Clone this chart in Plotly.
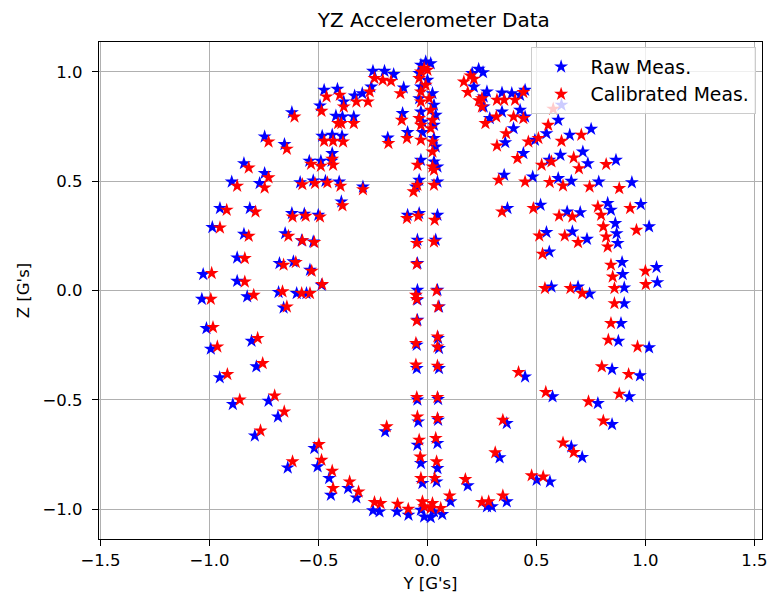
import plotly.graph_objects as go

# Raw measurements (Y, Z) in G's
raw_y = [
    -0.250, -0.197, -0.155, -0.109, -0.474, -0.413, -0.334, -0.299, -0.258, -0.384,
    -0.493, -0.622, -0.420, -0.390, -0.338, -0.114, -0.747, -0.656, -0.483, -0.437,
    -0.392, -0.182, -0.091, -0.023, -0.437, -0.842, -0.542, -0.489, -0.440, -0.747,
    -0.898, -0.770, -0.584, -0.524, -0.468, -0.405, -0.296, -0.395, -0.952, -0.815,
    -0.622, -0.565, -0.501, -0.987, -0.842, -0.653, -0.577, -0.524, -0.873, -0.679,
    -0.615, -0.539, -1.029, -0.873, -0.486,
    -1.035, -0.827, -0.683, -0.600, -0.555, -0.660, -1.014, -0.994, -0.807, -0.953,
    -0.785, -0.893, -0.729, -0.686, -0.792, -0.641, -0.519, -0.504, -0.451, -0.443,
    -0.364, -0.326, -0.250, -0.220, -0.140, -0.087, -0.194,
    0.235, 0.255, 0.205, 0.213, 0.273, 0.342, 0.387, 0.448, 0.425, 0.258,
    0.342, 0.425, 0.286, 0.448, 0.600, 0.615, 0.395, 0.546, 0.653, 0.751,
    0.357, 0.493, 0.440, 0.610, 0.713, 0.559, 0.736, 0.865, 0.352, 0.483,
    0.600, 0.660, 0.786, 0.938, 0.367, 0.519, 0.641, 0.701, 0.827, 0.842,
    0.979, 0.862, 1.017, 0.546, 0.665, 0.732, 0.868, 0.873, 0.559, 0.893,
    0.896, 1.051, 1.055, 0.903, 0.569, 0.691, 0.744, 0.258,
    0.903, 0.888, 0.876, 1.017, 0.847, 0.975, 0.448, 0.574, 0.782, 0.926,
    0.847, 0.364, 0.660, 0.710, 0.331, 0.501, 0.562, 0.185, 0.364, 0.273,
    0.296, 0.106, 0.068,
    -0.008, -0.030, 0.015, -0.038, 0.000, -0.030, 0.023, -0.038, 0.030, -0.030,
    0.038, -0.023, 0.030, 0.030, 0.038, -0.030, 0.030, 0.046, -0.038, -0.053,
    0.046, -0.091, -0.038, 0.046, -0.046, 0.038, -0.046, -0.046, 0.046, 0.053,
    -0.046, -0.046, -0.049, 0.049, 0.053, -0.049, 0.053, -0.046, 0.049, -0.042,
    0.049, -0.046, 0.046, -0.030, 0.046, -0.023, 0.042, -0.015, 0.015, -0.030,
    0.030,
]
raw_z = [
    1.003, 1.003, 0.988, 0.927, 0.916, 0.921, 0.890, 0.901, 0.931, 0.863,
    0.845, 0.814, 0.798, 0.794, 0.794, 0.810, 0.703, 0.668, 0.706, 0.711,
    0.706, 0.698, 0.723, 0.723, 0.627, 0.581, 0.592, 0.592, 0.592, 0.536,
    0.497, 0.490, 0.494, 0.502, 0.500, 0.497, 0.474, 0.406, 0.376, 0.376,
    0.353, 0.350, 0.345, 0.289, 0.258, 0.261, 0.228, 0.223, 0.150, 0.124,
    0.132, 0.094, 0.074, 0.043, 0.025,
    -0.039, -0.028, -0.008, -0.013, -0.013, -0.079, -0.173, -0.267, -0.231, -0.398,
    -0.348, -0.520, -0.505, -0.577, -0.664, -0.810, -0.721, -0.805, -0.858, -0.935,
    -0.904, -0.947, -1.006, -1.011, -1.011, -1.026, -0.645,
    1.012, 0.997, 0.993, 0.931, 0.909, 0.904, 0.901, 0.916, 0.893, 0.840,
    0.817, 0.825, 0.787, 0.794, 0.779, 0.848, 0.741, 0.718, 0.711, 0.738,
    0.677, 0.688, 0.627, 0.619, 0.634, 0.596, 0.581, 0.596, 0.528, 0.520,
    0.513, 0.500, 0.497, 0.494, 0.376, 0.391, 0.360, 0.357, 0.399, 0.368,
    0.394, 0.307, 0.292, 0.266, 0.269, 0.235, 0.261, 0.216, 0.177, 0.129,
    0.074, 0.106, 0.037, 0.013, 0.017, 0.017, -0.015, 0.886,
    -0.059, -0.150, -0.231, -0.261, -0.360, -0.389, -0.394, -0.485, -0.516, -0.485,
    -0.612, -0.607, -0.714, -0.762, -0.764, -0.866, -0.874, -0.892, -0.965, -0.988,
    -0.988, -0.965, -1.023,
    1.046, 1.031, 1.038, 0.993, 0.962, 0.931, 0.901, 0.878, 0.848, 0.817,
    0.802, 0.771, 0.756, 0.696, 0.657, 0.596, 0.589, 0.566, 0.505, 0.474,
    0.497, 0.345, 0.353, 0.345, 0.231, 0.231, 0.124, 0.002, 0.002, -0.074,
    -0.043, -0.135, -0.249, -0.218, -0.264, -0.356, -0.356, -0.500, -0.497, -0.600,
    -0.592, -0.706, -0.698, -0.790, -0.813, -0.881, -0.874, -1.034, -1.037, -1.003,
    -1.011,
]

# Calibrated measurements (Y, Z) in G's
cal_y = [
    -0.243, -0.205, -0.167, -0.124, -0.463, -0.402, -0.326, -0.273, -0.265, -0.384,
    -0.486, -0.610, -0.410, -0.395, -0.338, -0.118, -0.729, -0.645, -0.474, -0.433,
    -0.387, -0.179, -0.094, -0.030, -0.437, -0.820, -0.534, -0.489, -0.433, -0.729,
    -0.873, -0.747, -0.574, -0.516, -0.459, -0.399, -0.296, -0.390, -0.921, -0.789,
    -0.619, -0.559, -0.493, -0.952, -0.820, -0.638, -0.574, -0.519, -0.838, -0.660,
    -0.604, -0.531, -0.990, -0.838, -0.483,
    -0.994, -0.797, -0.665, -0.577, -0.539, -0.645, -0.984, -0.964, -0.779, -0.918,
    -0.756, -0.861, -0.701, -0.657, -0.766, -0.619, -0.498, -0.486, -0.437, -0.433,
    -0.357, -0.316, -0.243, -0.215, -0.137, -0.088, -0.187,
    0.197, 0.213, 0.167, 0.185, 0.250, 0.319, 0.352, 0.440, 0.402, 0.250,
    0.316, 0.395, 0.266, 0.440, 0.554, 0.577, 0.361, 0.509, 0.615, 0.706,
    0.319, 0.463, 0.413, 0.569, 0.671, 0.524, 0.695, 0.820, 0.327, 0.448,
    0.561, 0.622, 0.744, 0.880, 0.342, 0.486, 0.604, 0.665, 0.782, 0.797,
    0.930, 0.807, 0.959, 0.513, 0.630, 0.691, 0.820, 0.827, 0.528, 0.842,
    0.850, 1.000, 1.002, 0.858, 0.539, 0.656, 0.710, 0.236,
    0.858, 0.842, 0.830, 0.964, 0.800, 0.923, 0.418, 0.543, 0.739, 0.880,
    0.807, 0.346, 0.622, 0.671, 0.311, 0.478, 0.531, 0.174, 0.346, 0.250,
    0.281, 0.102, 0.061,
    -0.015, -0.030, 0.000, -0.038, -0.008, -0.030, 0.008, -0.030, 0.015, -0.038,
    0.023, -0.030, 0.015, 0.023, 0.023, -0.046, 0.023, 0.030, -0.046, -0.064,
    0.030, -0.094, -0.042, 0.033, -0.049, 0.030, -0.049, -0.053, 0.042, 0.049,
    -0.049, -0.049, -0.053, 0.046, 0.046, -0.053, 0.046, -0.049, 0.046, -0.046,
    0.046, -0.038, 0.038, -0.033, 0.042, -0.030, 0.033, -0.015, 0.015, -0.023,
    0.023,
]
cal_z = [
    0.970, 0.962, 0.957, 0.901, 0.886, 0.894, 0.863, 0.863, 0.909, 0.840,
    0.820, 0.794, 0.764, 0.764, 0.764, 0.779, 0.680, 0.647, 0.683, 0.683,
    0.680, 0.673, 0.696, 0.688, 0.601, 0.561, 0.578, 0.569, 0.574, 0.516,
    0.478, 0.470, 0.485, 0.490, 0.493, 0.478, 0.462, 0.388, 0.368, 0.360,
    0.337, 0.340, 0.337, 0.287, 0.249, 0.249, 0.228, 0.220, 0.147, 0.117,
    0.129, 0.089, 0.079, 0.040, 0.028,
    -0.039, -0.021, -0.005, -0.013, -0.013, -0.074, -0.168, -0.257, -0.218, -0.383,
    -0.333, -0.500, -0.481, -0.554, -0.641, -0.782, -0.703, -0.775, -0.825, -0.904,
    -0.874, -0.920, -0.968, -0.973, -0.976, -0.999, -0.622,
    0.982, 0.967, 0.954, 0.906, 0.878, 0.871, 0.871, 0.906, 0.871, 0.840,
    0.794, 0.794, 0.764, 0.787, 0.756, 0.830, 0.718, 0.696, 0.683, 0.711,
    0.662, 0.680, 0.604, 0.589, 0.607, 0.574, 0.558, 0.577, 0.505, 0.497,
    0.495, 0.479, 0.474, 0.467, 0.360, 0.376, 0.342, 0.337, 0.383, 0.345,
    0.376, 0.292, 0.276, 0.250, 0.250, 0.220, 0.246, 0.200, 0.167, 0.117,
    0.063, 0.089, 0.028, 0.010, 0.010, 0.010, -0.013, 0.868,
    -0.059, -0.150, -0.226, -0.257, -0.348, -0.383, -0.374, -0.465, -0.508, -0.473,
    -0.596, -0.592, -0.696, -0.740, -0.741, -0.846, -0.851, -0.863, -0.938, -0.968,
    -0.965, -0.938, -0.995,
    1.016, 1.000, 1.008, 0.970, 0.939, 0.909, 0.878, 0.863, 0.825, 0.787,
    0.779, 0.756, 0.741, 0.680, 0.634, 0.574, 0.566, 0.551, 0.482, 0.452,
    0.482, 0.330, 0.340, 0.322, 0.216, 0.223, 0.121, -0.021, -0.001, -0.074,
    -0.040, -0.138, -0.241, -0.211, -0.257, -0.340, -0.345, -0.488, -0.488, -0.577,
    -0.584, -0.683, -0.675, -0.760, -0.782, -0.858, -0.858, -0.988, -0.995, -0.965,
    -0.973,
]

x_ticks = [-1.5, -1.0, -0.5, 0.0, 0.5, 1.0, 1.5]
y_ticks = [-1.0, -0.5, 0.0, 0.5, 1.0]

FONT = "DejaVu Sans"

fig = go.Figure()
fig.add_trace(go.Scatter(
    x=raw_y, y=raw_z, mode="markers", name="Raw Meas.",
    marker=dict(symbol="star", size=10.5, color="#0000ff", line=dict(width=0)),
))
fig.add_trace(go.Scatter(
    x=cal_y, y=cal_z, mode="markers", name="Calibrated Meas.",
    marker=dict(symbol="star", size=10.5, color="#ff0000", line=dict(width=0)),
))

axis_common = dict(
    showgrid=True, gridcolor="#b0b0b0", gridwidth=1.3,
    zeroline=False, showline=True, linecolor="black", linewidth=1.3,
    mirror=True, ticks="outside", ticklen=6, tickwidth=1.3, tickcolor="black",
    tickfont=dict(family=FONT, size=16.5, color="black"),
    tickformat=".1f",
)

fig.update_layout(
    width=774, height=603,
    margin=dict(l=99, r=7, t=42, b=64),
    paper_bgcolor="white", plot_bgcolor="white",
    font=dict(family=FONT, color="black"),
    title=dict(text="YZ Accelerometer Data", x=0.5605, xanchor="center",
               y=1 - 20 / 603, yanchor="middle",
               font=dict(family=FONT, size=20, color="black")),
    xaxis=dict(range=[-1.507, 1.535], tickvals=x_ticks,
               title=dict(text="Y [G's]", font=dict(family=FONT, size=16.5, color="black"), standoff=8),
               **axis_common),
    yaxis=dict(range=[-1.136, 1.136], tickvals=y_ticks, ticklabelstandoff=6,
               title=dict(text="Z [G's]", font=dict(family=FONT, size=16.5, color="black"), standoff=8),
               **axis_common),
    legend=dict(x=0.651, y=0.99, xanchor="left", yanchor="top", itemwidth=49,
                bgcolor="rgba(255,255,255,0.8)", bordercolor="#cccccc", borderwidth=1,
                font=dict(family=FONT, size=18.8, color="black")),
    showlegend=True,
)

fig.write_html("out.html")
